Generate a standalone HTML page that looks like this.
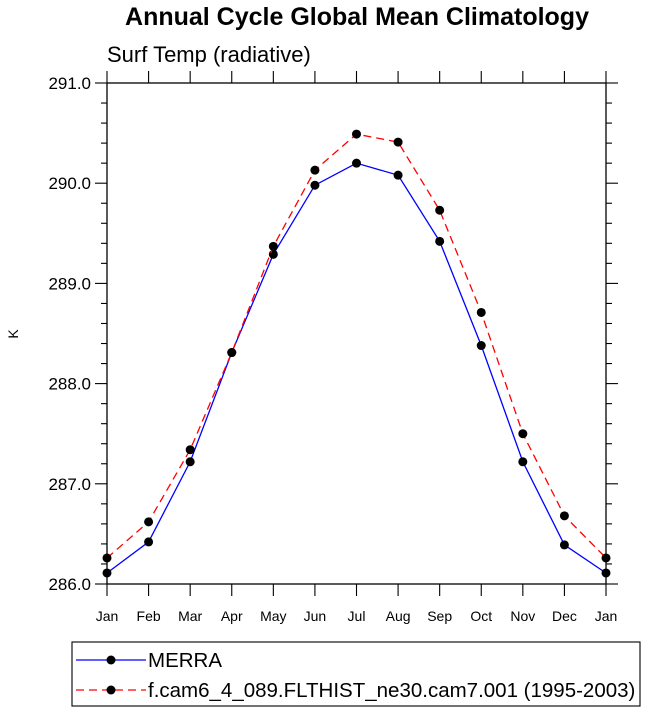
<!DOCTYPE html>
<html><head><meta charset="utf-8"><style>body{margin:0;background:#fff}svg{display:block;font-family:"Liberation Sans",Helvetica,sans-serif}</style></head>
<body>
<svg id="c" width="648" height="715"></svg>
<script>
const months=["Jan","Feb","Mar","Apr","May","Jun","Jul","Aug","Sep","Oct","Nov","Dec","Jan"];
const merra=[286.11,286.42,287.22,288.31,289.29,289.98,290.20,290.08,289.42,288.38,287.22,286.39,286.11];
const model=[286.26,286.62,287.34,288.31,289.37,290.13,290.49,290.41,289.73,288.71,287.50,286.68,286.26];
const yTicks=[286,287,288,289,290,291];
const NS="http://www.w3.org/2000/svg",svg=document.getElementById('c');
const L=107,R=606,T=83,B=584,ymin=286,ymax=291;
const x=i=>L+(R-L)*i/(months.length-1);
const y=v=>B-(B-T)*(v-ymin)/(ymax-ymin);
function el(t,a,p){const e=document.createElementNS(NS,t);for(const k in a)e.setAttribute(k,a[k]);(p||svg).appendChild(e);return e;}
let e;
e=el('text',{x:357,y:25,'text-anchor':'middle','font-size':25,'font-weight':'bold'});e.textContent='Annual Cycle Global Mean Climatology';

e=el('text',{x:107,y:62,'font-size':22});e.textContent='Surf Temp (radiative)';

e=el('text',{x:18,y:334,'font-size':14,'text-anchor':'middle',transform:'rotate(-90 18 334)'});e.textContent='K';

e=el('rect',{x:L,y:T,width:R-L,height:B-T,fill:'none',stroke:'#000','stroke-width':1.3});

const ax=el('g',{stroke:'#000','stroke-width':1.1});

for(let v=ymin;v<=ymax+1e-6;v+=0.2){const yy=y(v),maj=Math.abs(v-Math.round(v))<1e-6,len=maj?12:6;
 el('line',{x1:L-len,x2:L,y1:yy,y2:yy},ax);el('line',{x1:R,x2:R+len,y1:yy,y2:yy},ax);}
months.forEach((m,i)=>{const xx=x(i);el('line',{x1:xx,x2:xx,y1:B,y2:B+12},ax);el('line',{x1:xx,x2:xx,y1:T-12,y2:T},ax);
 const t=el('text',{x:xx,y:B+37,'text-anchor':'middle','font-size':14});t.textContent=m;
 });
yTicks.forEach(v=>{const t=el('text',{x:L-16,y:y(v)+6,'text-anchor':'end','font-size':17});t.textContent=v.toFixed(1);
 });
function series(d,col,dash,name){const g=el('g',{});
 
 el('polyline',{points:d.map((v,i)=>x(i)+','+y(v)).join(' '),fill:'none',stroke:col,'stroke-width':1.3,'stroke-dasharray':dash},g);
 d.forEach((v,i)=>{const c=el('circle',{cx:x(i),cy:y(v),r:4.5,fill:'#000'},g);
 });}
series(merra,'#0000ff','none','merra-series');
series(model,'#ff0000','8 5','model-series');
const lg=el('g',{});
el('rect',{x:72,y:642,width:568,height:64,fill:'none',stroke:'#000','stroke-width':1.1},lg);
[[660,'#0000ff','none','MERRA'],[690,'#ff0000','8 5','f.cam6_4_089.FLTHIST_ne30.cam7.001 (1995-2003)']].forEach(r=>{
 const g=el('g',{},lg);
 el('line',{x1:76,x2:146,y1:r[0],y2:r[0],stroke:r[1],'stroke-width':1.3,'stroke-dasharray':r[2]},g);
 el('circle',{cx:111,cy:r[0],r:4.5,fill:'#000'},g);
 const t=el('text',{x:148,y:r[0]+7,'font-size':20.5},g);t.textContent=r[3];});
</script>
</body></html>
